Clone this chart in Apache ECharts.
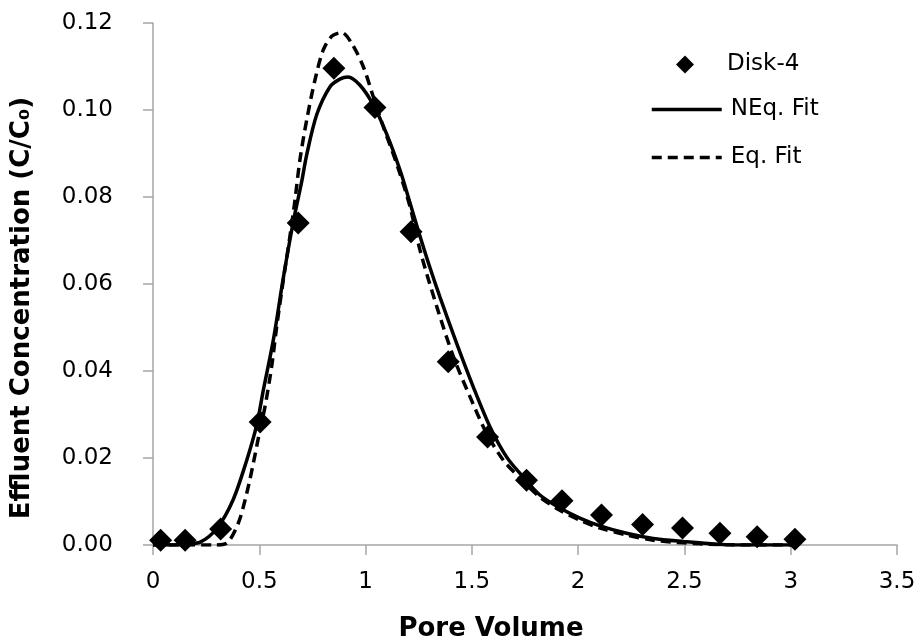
<!DOCTYPE html>
<html>
<head>
<meta charset="utf-8">
<script src="https://cdn.jsdelivr.net/npm/echarts@6/dist/echarts.min.js"></script>
<style>
  html, body { margin: 0; padding: 0; background: #ffffff; }
  #chart { width: 922px; height: 644px; }
</style>
</head>
<body>
<div id="chart"></div>
<script>
// Measured breakthrough data, Disk-4
const poreVolume = [0.036, 0.151, 0.318, 0.504, 0.683, 0.851, 1.044, 1.214, 1.389, 1.574,
                    1.757, 1.924, 2.110, 2.303, 2.491, 2.667, 2.842, 3.020];
const disk4Conc  = [0.0011, 0.0011, 0.0037, 0.0283, 0.0740, 0.1096, 0.1006, 0.0720, 0.0421, 0.0248,
                    0.0149, 0.0102, 0.0069, 0.0047, 0.0039, 0.0027, 0.0019, 0.0013];

// Non-equilibrium model fit
const neqX = [0, 0.10, 0.17, 0.22, 0.30, 0.376, 0.441, 0.488, 0.519, 0.566, 0.613, 0.660, 0.699,
              0.723, 0.770, 0.832, 0.879, 0.917, 0.974, 1.036, 1.099, 1.162, 1.204, 1.246, 1.300,
              1.350, 1.428, 1.507, 1.585, 1.664, 1.742, 1.820, 1.914, 2.008, 2.103, 2.228, 2.353,
              2.494, 2.651, 2.85, 3.02];
const neqY = [0, 0, 0.0003, 0.0006, 0.0038, 0.0103, 0.0195, 0.0276, 0.0356, 0.0471, 0.0614, 0.0743, 0.0834,
              0.0897, 0.0989, 0.1053, 0.1071, 0.1076, 0.1057, 0.1012, 0.0945, 0.0862, 0.0795, 0.0726, 0.0642,
              0.0570, 0.0464, 0.0363, 0.0272, 0.0202, 0.0156, 0.0115, 0.0085, 0.0062, 0.0044, 0.0027, 0.0015,
              0.0008, 0.0002, 0, 0];

// Equilibrium model fit
const eqX = [0, 0.29, 0.346, 0.401, 0.441, 0.472, 0.503, 0.527, 0.558, 0.582, 0.613, 0.644, 0.668,
             0.691, 0.723, 0.762, 0.801, 0.842, 0.888, 0.935, 0.989, 1.036, 1.083, 1.146, 1.209,
             1.256, 1.335, 1.413, 1.491, 1.569, 1.648, 1.726, 1.820, 1.914, 2.008, 2.103, 2.228,
             2.353, 2.494, 2.651, 2.85, 3.02];
const eqY = [0, 0, 0.0004, 0.0050, 0.0119, 0.0188, 0.0264, 0.0318, 0.0410, 0.0502, 0.0609, 0.0709, 0.0793,
             0.0885, 0.0977, 0.1069, 0.1138, 0.1170, 0.1178, 0.1153, 0.1100, 0.1031, 0.0962, 0.0877, 0.0778,
             0.0678, 0.0548, 0.0433, 0.0341, 0.0257, 0.0195, 0.0154, 0.0110, 0.0080, 0.0057, 0.0039, 0.0023,
             0.0011, 0.0005, 0.0001, 0, 0];

const seriesNames = ['Disk-4', 'NEq. Fit', 'Eq. Fit'];
const xTitle = 'Pore Volume';
const yTitle = 'Effluent Concentration (C/C₀)';

const pairs = (xs, ys) => xs.map((x, i) => [x, ys[i]]);

const FONT = 'DejaVu Sans';
const axisGrey = '#a6a6a6';
const ink = '#000000';
const dash = [10, 6];

const chart = echarts.init(document.getElementById('chart'), null, { renderer: 'canvas' });

chart.setOption({
  backgroundColor: '#ffffff',
  animation: false,
  grid: { left: 153, right: 25, top: 23, bottom: 99, containLabel: false, outerBoundsMode: 'none' },
  xAxis: {
    type: 'value',
    min: 0, max: 3.5, interval: 0.5,
    name: xTitle,
    nameLocation: 'middle',
    nameGap: 71,
    nameTextStyle: { fontFamily: FONT, fontSize: 26, fontWeight: 'bold', color: ink, padding: [0, 68, 0, 0] },
    axisLine: { show: true, lineStyle: { color: axisGrey, width: 1.5 } },
    axisTick: { show: true, length: 10, inside: false, lineStyle: { color: axisGrey, width: 1.5 } },
    axisLabel: { fontFamily: FONT, fontSize: 23, color: ink, margin: 26 },
    splitLine: { show: false }
  },
  yAxis: {
    type: 'value',
    min: 0, max: 0.12, interval: 0.02,
    name: yTitle,
    nameLocation: 'middle',
    nameGap: 118,
    nameRotate: 90,
    nameTextStyle: { fontFamily: FONT, fontSize: 26, fontWeight: 'bold', color: ink, padding: [0, 48, 0, 0] },
    axisLine: { show: true, lineStyle: { color: axisGrey, width: 1.5 } },
    axisTick: { show: true, length: 10, inside: false, lineStyle: { color: axisGrey, width: 1.5 } },
    axisLabel: { fontFamily: FONT, fontSize: 23, color: ink, margin: 40, formatter: v => v.toFixed(2) },
    splitLine: { show: false }
  },
  legend: [
    {
      data: [seriesNames[0]],
      left: 676, top: 53, padding: 0,
      itemWidth: 18, itemHeight: 18,
      itemStyle: { color: '#000000', opacity: 1 },
      textStyle: { fontFamily: FONT, fontSize: 23, color: ink, padding: [0, 0, 0, 28] }
    },
    {
      data: [seriesNames[1], seriesNames[2]],
      orient: 'vertical',
      left: 650, top: 98, padding: 0,
      itemWidth: 70, itemHeight: 14, itemGap: 25,
      itemStyle: { opacity: 0 },
      lineStyle: { width: 3.5 },
      textStyle: { fontFamily: FONT, fontSize: 23, color: ink, padding: [0, 0, 0, 4] }
    }
  ],
  series: [
    {
      name: seriesNames[0],
      type: 'scatter',
      symbol: 'diamond',
      symbolSize: 23,
      itemStyle: { color: '#000000', opacity: 1 },
      data: pairs(poreVolume, disk4Conc),
      z: 2
    },
    {
      name: seriesNames[1],
      type: 'line',
      symbol: 'none',
      showSymbol: false,
      smooth: 0.3,
      lineStyle: { color: '#000000', width: 3.5 },
      itemStyle: { color: '#000000' },
      data: pairs(neqX, neqY),
      z: 3
    },
    {
      name: seriesNames[2],
      type: 'line',
      symbol: 'none',
      showSymbol: false,
      smooth: 0.3,
      lineStyle: { color: '#000000', width: 3.5, type: dash },
      itemStyle: { color: '#000000' },
      data: pairs(eqX, eqY),
      z: 3
    }
  ]
});
</script>
</body>
</html>
